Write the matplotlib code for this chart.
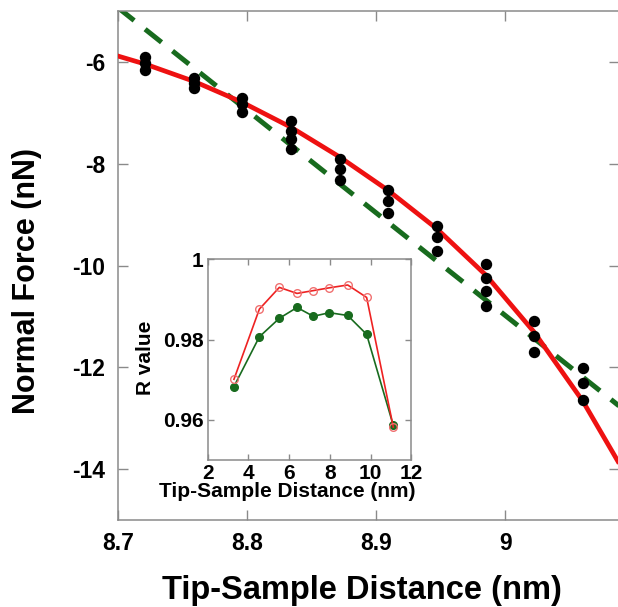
import matplotlib
matplotlib.use('Agg')
import matplotlib.pyplot as plt

plt.rcParams['font.family'] = ['Liberation Sans', 'DejaVu Sans']
plt.rcParams['axes.unicode_minus'] = False

# ---- main panel data ----
dist_x = [8.7214, 8.7590, 8.7963, 8.8340, 8.8720, 8.9092, 8.9472, 8.9850, 9.0222, 9.0601]
force_groups = [
    [-5.905, -6.03, -6.16],
    [-6.31, -6.42, -6.52],
    [-6.705, -6.83, -6.99],
    [-7.157, -7.354, -7.523, -7.72],
    [-7.905, -8.107, -8.323],
    [-8.526, -8.736, -8.978],
    [-9.222, -9.438, -9.714],
    [-9.98, -10.237, -10.506, -10.80],
    [-11.09, -11.385, -11.70],
    [-12.007, -12.31, -12.65],
]

# red fitted curve
fit_x = [8.7002, 8.7219, 8.7591, 8.7962, 8.8341, 8.8721, 8.9092, 8.9471,
         8.9851, 9.0222, 9.0601, 9.0872]
fit_y = [-5.885, -6.048, -6.383, -6.791, -7.284, -7.873, -8.522, -9.280,
         -10.192, -11.305, -12.669, -13.848]

# green linear fit
lin_x = [8.70, 9.10]
lin_y = [-4.93, -13.00]

x_ticks = [8.7, 8.8, 8.9, 9.0]
x_tick_labels = ['8.7', '8.8', '8.9', '9']
y_ticks = [-14, -12, -10, -8, -6]

# ---- inset data ----
r_x = [3.29, 4.54, 5.52, 6.39, 7.19, 7.98, 8.88, 9.81, 11.12]
r_red = [0.9701, 0.9876, 0.9930, 0.9915, 0.9922, 0.9929, 0.9936, 0.9905, 0.9582]
r_green = [0.9683, 0.9807, 0.9853, 0.9880, 0.9858, 0.9867, 0.9860, 0.9813, 0.9586]

W, H = 618, 607
fig = plt.figure(figsize=(W / 100, H / 100), dpi=100)

spine_col = '#8a8a8a'
RED = '#ee1111'
GREEN = '#186b1e'

ax = fig.add_axes([117.7 / W, 1 - 520 / H, (619 - 117.7) / W, (520 - 11) / H])
ax.set_xlim(8.7, 9.088)
ax.set_ylim(-15, -5)

ax.plot(lin_x, lin_y, color=GREEN, lw=3.6, dashes=(4.2, 2.8), solid_capstyle='butt',
        dash_capstyle='butt', zorder=2)
ax.plot(fit_x, fit_y, color=RED, lw=3.4, zorder=3, solid_joinstyle='round')
for xv, grp in zip(dist_x, force_groups):
    ax.plot([xv] * len(grp), grp, 'o', color='black', ms=7.2, zorder=4, mec='black')

ax.set_xticks(x_ticks)
ax.set_xticklabels(x_tick_labels)
ax.set_yticks(y_ticks)
ax.tick_params(direction='in', length=7, width=1.0, color=spine_col, top=True, right=True,
               labelsize=16.5, pad=9)
for lab in ax.get_xticklabels() + ax.get_yticklabels():
    lab.set_fontweight('bold')
for s in ax.spines.values():
    s.set_color(spine_col)
    s.set_linewidth(1.1)

ax.set_xlabel('Tip-Sample Distance (nm)', fontsize=23.5, fontweight='bold')
ax.xaxis.set_label_coords(0.488, -0.108)
ax.set_ylabel('Normal Force (nN)', fontsize=22, fontweight='bold')
ax.yaxis.set_label_coords(-0.151, 0.47)

# ---- inset ----
ins = fig.add_axes([207.7 / W, 1 - 460 / H, (411.2 - 207.7) / W, (460 - 259.3) / H])
ins.set_facecolor('white')
ins.set_xlim(2, 12)
ins.set_ylim(0.95, 1.0)
ins.plot(r_x, r_red, '-o', color='#ee2222', lw=1.2, ms=5.5, mfc='none', mec='#f07070',
         mew=1.0, zorder=3)
ins.plot(r_x, r_green, '-o', color=GREEN, lw=1.2, ms=5.5, mfc=GREEN, mec=GREEN, zorder=2)
ins.set_xticks([2, 4, 6, 8, 10, 12])
ins.set_yticks([0.96, 0.98, 1.0])
ins.set_yticklabels(['0.96', '0.98', '1'])
ins.tick_params(direction='in', length=4, width=1.0, color=spine_col, top=True, right=True,
                labelsize=15, pad=3)
for lab in ins.get_xticklabels() + ins.get_yticklabels():
    lab.set_fontweight('bold')
for s in ins.spines.values():
    s.set_color(spine_col)
    s.set_linewidth(1.1)
ins.set_xlabel('Tip-Sample Distance (nm)', fontsize=15, fontweight='bold')
ins.xaxis.set_label_coords(0.39, -0.11)
ins.set_ylabel('R value', fontsize=15, fontweight='bold')
ins.yaxis.set_label_coords(-0.259, 0.51)

fig.savefig('out.png', dpi=100)
